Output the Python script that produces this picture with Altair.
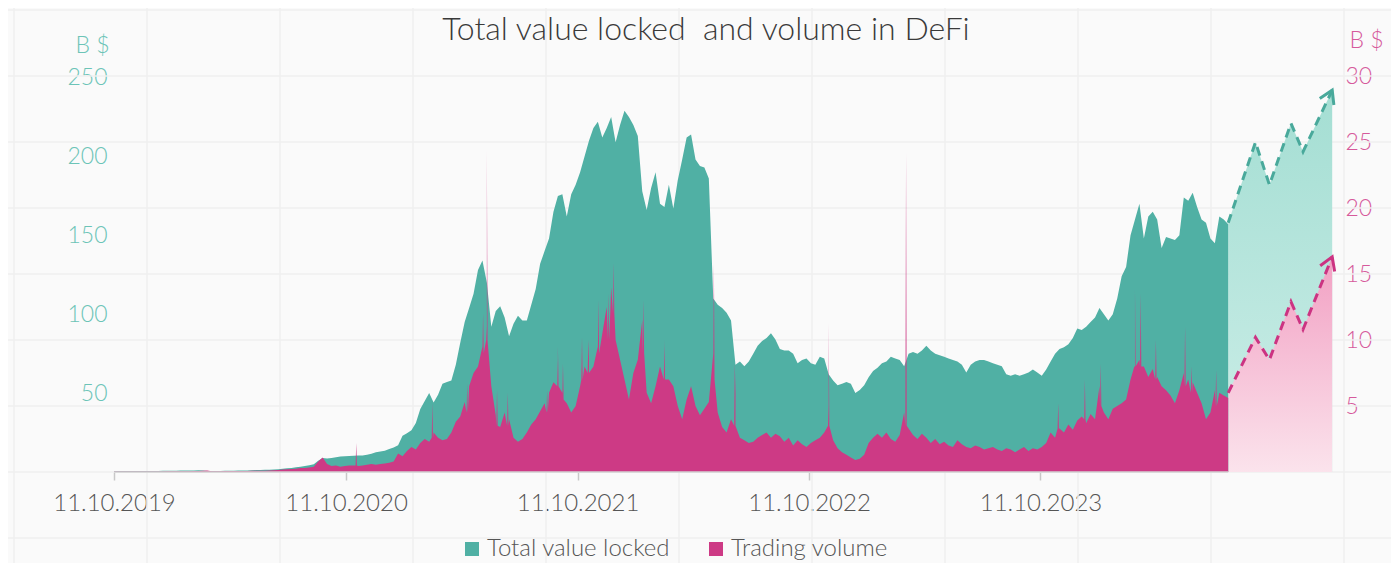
import altair as alt
import pandas as pd

# ---------------- data ----------------
start_date = "2019-10-11"

# weekly Total value locked, B $ (left axis)
tvl = [
    0.55, 0.6, 0.6, 0.6, 0.65, 0.65, 0.65, 0.7, 0.7, 0.7,
    0.7, 0.75, 0.8, 0.8, 0.85, 0.9, 0.95, 1.0, 1.0, 1.05,
    1.0, 0.6, 0.6, 0.65, 0.7, 0.75, 0.8, 0.85, 0.9, 0.95,
    1.0, 1.1, 1.2, 1.3, 1.4, 1.5, 1.6, 1.8, 2.0, 2.3,
    2.6, 3.0, 3.4, 3.8, 4.3, 4.9, 7.2, 8.8, 8.6, 8.9,
    9.4, 9.8, 10.0, 10.2, 10.3, 10.4, 10.5, 11.0, 11.5, 12.5,
    13.0, 13.5, 14.5, 15.5, 17, 23, 24.5, 26.5, 31, 40,
    45, 50, 44, 49, 56, 57, 58, 68, 82, 95,
    104, 113, 128, 134, 120, 92, 102, 105, 98, 86,
    94, 99, 96, 96, 106, 116, 132, 140, 148, 165,
    175, 176, 162, 176, 182, 190, 200, 210, 218, 222,
    212, 218, 225, 209, 220, 229, 225, 220, 213, 178,
    166, 180, 190, 170, 168, 182, 167, 185, 198, 212,
    214, 198, 194, 193, 186, 110, 106, 104, 101, 96,
    68, 70, 67, 70, 75, 80, 83, 85, 88, 84,
    78, 77, 77, 75, 69, 71, 72, 69, 68, 73,
    72, 62, 58, 55, 56, 57, 56, 50, 52, 55,
    60, 64, 66, 69, 70, 73, 72, 71, 67, 75,
    76, 75, 77, 80, 77, 75, 74, 73, 72, 71,
    70, 68, 63, 68, 70, 71, 71, 70, 69, 68,
    67, 62, 61, 62, 61, 62, 63, 65, 63, 61,
    65, 70, 75, 78, 79, 81, 85, 91, 90, 92,
    95, 98, 104, 100, 96, 100, 110, 124, 130, 150,
    160, 170, 148, 162, 165, 160, 142, 149, 148, 147,
    150, 174, 172, 177, 168, 160, 158, 148, 145, 162,
    160, 157,
]

# weekly Trading volume, B $ (right axis)
vol = [
    0.03, 0.03, 0.03, 0.03, 0.03, 0.03, 0.04, 0.04, 0.04, 0.04,
    0.04, 0.04, 0.05, 0.05, 0.05, 0.05, 0.06, 0.06, 0.07, 0.08,
    0.1, 0.12, 0.06, 0.06, 0.06, 0.07, 0.07, 0.08, 0.08, 0.08,
    0.08, 0.09, 0.09, 0.1, 0.1, 0.12, 0.14, 0.16, 0.18, 0.2,
    0.22, 0.25, 0.3, 0.3, 0.35, 0.4, 0.8, 1.1, 0.6, 0.45,
    0.5, 0.4, 0.45, 0.5, 0.5, 0.45, 0.5, 0.55, 0.6, 0.55,
    0.6, 0.65, 0.7, 0.8, 1.4, 1.2, 1.6, 1.9, 1.7, 2.2,
    2.5, 2.3, 3.0, 2.6, 2.4, 2.5, 3.0, 3.8, 4.2, 5.3,
    6.5, 7.5, 8.0, 9.5, 11, 6.5, 4.3, 3.4, 4.5, 4.0,
    2.6, 2.3, 2.5, 3.0, 3.6, 4.0, 4.6, 5.2, 6.0, 6.8,
    8.5, 6.0, 5.2, 4.5, 5.0, 6.5, 8.0, 8.5, 8.0, 9.5,
    10.5, 12.5, 14, 10, 8.5, 7.0, 5.5, 7.5, 8.5, 11.5,
    6.0, 5.2, 6.5, 8.0, 9.5, 7.0, 6.5, 5.0, 4.0, 5.5,
    6.5, 5.0, 4.3, 4.8, 5.3, 9, 4.5, 3.4, 3.0, 4.0,
    6.0, 2.6, 2.4, 2.2, 2.3, 2.6, 2.8, 3.0, 2.6, 2.9,
    2.7, 2.3, 2.6, 2.0, 2.4, 2.1, 1.9, 2.2, 2.4, 2.6,
    3.0, 5, 2.4, 1.8, 1.5, 1.3, 1.1, 0.9, 1.0, 1.3,
    2.2, 2.6, 2.9, 2.6, 3.0, 2.5, 2.3, 2.8, 4.5, 3.3,
    2.8, 2.5, 2.9, 2.6, 2.2, 2.5, 2.1, 2.3, 2.0, 1.9,
    2.4, 2.1, 1.9, 1.8, 2.0, 1.9, 1.7, 1.8, 1.9, 1.7,
    1.6, 1.8, 1.7, 1.5, 1.7, 1.9, 1.6, 1.8, 1.7, 1.9,
    2.2, 3.0, 2.6, 3.3, 3.0, 3.6, 3.2, 3.9, 4.2, 3.7,
    4.4, 4.0, 6.5, 4.5, 4.0, 4.8, 5.0, 5.2, 5.5, 7.0,
    8.0, 8.5, 8.0, 7.2, 7.8, 7.2, 6.5, 6.2, 5.8, 5.2,
    6.2, 7.5, 7.0, 6.8, 6.0, 5.2, 4.0, 4.5, 6.2, 6.0,
    5.8, 5.6,
]

# single-day volume spikes (date, peak, level around it)
spike_dates = ["2020-10-27", "2021-02-24", "2021-04-20", "2021-05-15", "2021-05-21",
               "2021-06-06", "2021-06-23", "2021-08-24", "2021-09-10", "2021-09-18",
               "2021-10-18", "2021-10-28", "2021-11-13", "2021-11-29", "2021-12-07",
               "2022-01-23", "2022-02-25", "2022-05-14", "2022-06-16", "2022-11-11",
               "2023-03-13", "2023-11-08", "2023-12-20", "2024-01-14", "2024-03-08",
               "2024-03-17", "2024-04-10", "2024-05-26", "2024-06-05", "2024-07-14"]
spike_peak = [2.2, 5.2, 6.7, 12, 24.4,
              6.2, 6.0, 6.2, 9.5, 8.2,
              10.2, 10, 13, 13.5, 15.8,
              13, 10, 15.8, 8.2, 11.3,
              24.2, 5.2, 7.0, 8.2, 13.8,
              13.5, 10, 11, 8, 7.7]
spike_base = [0.5, 2.6, 4.5, 9, 10,
              3.5, 3.5, 4.5, 6.5, 5.5,
              7, 7.5, 9, 10, 12,
              9, 7, 7, 3.5, 3.5,
              3.5, 3.3, 4, 5, 8,
              8, 7, 6.5, 6, 5]

# projection (dashed arrows)
proj_dates = ["2024-08-02", "2024-09-14", "2024-10-06", "2024-11-09", "2024-11-28", "2025-01-13"]
proj_tvl = [158, 209, 182, 221, 203, 242]
proj_vol = [6.0, 10.2, 8.5, 12.9, 10.8, 16.3]

tick_dates = ["2019-10-11", "2020-10-11", "2021-10-11", "2022-10-11", "2023-10-11"]
left_ticks = [50, 100, 150, 200, 250]
right_ticks = [5, 10, 15, 20, 25, 30]
series_names = ["Total value locked", "Trading volume"]
grid_cols = list(range(11))
grid_rows = list(range(-5, 40, 5))
title_text = "Total value locked\u00a0 and volume in DeFi"

# ---------------- tables ----------------
dates = pd.date_range(start_date, periods=len(tvl), freq="7D")
df = pd.DataFrame({"date": dates, "tvl": tvl, "series": series_names[0]})

rows = [(d, v) for d, v in zip(dates, vol)]
for d, p, b in zip(spike_dates, spike_peak, spike_base):
    t = pd.Timestamp(d)
    rows += [(t - pd.Timedelta(days=1), b), (t, p), (t + pd.Timedelta(days=1), b)]
vol_df = pd.DataFrame(rows, columns=["date", "vol"]).sort_values("date", kind="stable")
vol_df["series"] = series_names[1]

proj_df = pd.DataFrame({"date": pd.to_datetime(proj_dates), "tvl": proj_tvl, "vol": proj_vol})
base_df = pd.DataFrame({"start": [dates[0]], "end": [dates[-1]]})


def dt(s):
    t = pd.Timestamp(s)
    return alt.DateTime(year=t.year, month=t.month, date=t.day)


# ---------------- style ----------------
FONT = "Lato"
TEAL = "#50b0a4"
PINK = "#cd3a85"
TEAL_LBL = "#6cc4b7"
PINK_LBL = "#d65a9c"
GRID = "#efefef"
W, H = 1222, 396

xscale = alt.Scale(domain=[dt("2019-10-11"), dt("2025-01-19")])
tvl_scale = alt.Scale(domain=[0, 251])
vol_scale = alt.Scale(domain=[0, 30])
x_plain = alt.X("date:T", scale=xscale, axis=None)

x_axis = alt.Axis(values=[dt(s) for s in tick_dates], format="%d.%m.%Y", title=None,
                  domain=False, grid=False, ticks=True, tickSize=8, tickWidth=1.5,
                  tickColor="#c8c8c8", labelFont=FONT, labelFontSize=24, labelFontWeight=300,
                  labelColor="#555555", labelPadding=11, labelFlush=False, labelOverlap=False)
left_axis = alt.Axis(values=left_ticks, orient="left", domain=False, ticks=False, grid=False,
                     labelFont=FONT, labelFontSize=23, labelFontWeight=300, labelColor=TEAL_LBL,
                     labelPadding=7, title="B $", titleFont=FONT, titleFontSize=23,
                     titleFontWeight=300, titleColor=TEAL_LBL, titleAngle=0, titleAlign="right",
                     titleBaseline="alphabetic", titleX=-5, titleY=-24)
right_axis = alt.Axis(values=right_ticks, orient="right", domain=False, ticks=False, grid=False,
                      labelFont=FONT, labelFontSize=23, labelFontWeight=300, labelColor=PINK_LBL,
                      labelPadding=9, title="B $", titleFont=FONT, titleFontSize=23,
                      titleFontWeight=300, titleColor=PINK_LBL, titleAngle=0, titleAlign="left",
                      titleBaseline="alphabetic", titleX=13, titleY=-29)

color_scale = alt.Scale(domain=series_names, range=[TEAL, PINK])
legend = alt.Legend(orient="none", legendX=346, legendY=461, direction="horizontal", title=None,
                    symbolType="square", symbolSize=196, symbolStrokeWidth=0, symbolOpacity=1,
                    labelFont=FONT, labelFontSize=24, labelFontWeight=300, labelColor="#555555",
                    labelOffset=3, columnPadding=33, labelLimit=400)

CHEVRON = "M -0.55 0.9 L 0 0 L 0.55 0.9"

# ---------------- layers ----------------
vgrid = alt.Chart(pd.DataFrame({"gx": grid_cols})).mark_rule(color=GRID, strokeWidth=1.5).encode(
    x=alt.X("gx:Q", scale=alt.Scale(domain=[0, 10], range=[-100, 1230]), axis=None),
    y=alt.value(-80), y2=alt.value(H + 110))
hgrid = alt.Chart(pd.DataFrame({"gy": grid_rows})).mark_rule(color=GRID, strokeWidth=1.5).encode(
    y=alt.Y("gy:Q", scale=vol_scale, axis=None),
    x=alt.value(-110), x2=alt.value(W + 60))

teal_proj = alt.Chart(proj_df).mark_area(
    color=alt.LinearGradient(gradient="linear", x1=0, x2=0, y1=0, y2=1,
                             stops=[alt.GradientStop(color="#a4ded3", offset=0),
                                    alt.GradientStop(color="#cdeee8", offset=1)])
).encode(x=x_plain, y=alt.Y("tvl:Q", scale=tvl_scale, axis=None, stack=None))

pink_proj = alt.Chart(proj_df).mark_area(
    color=alt.LinearGradient(gradient="linear", x1=0, x2=0, y1=0, y2=1,
                             stops=[alt.GradientStop(color="#f2a0c3", offset=0),
                                    alt.GradientStop(color="#fbe3ec", offset=1)])
).encode(x=x_plain, y=alt.Y("vol:Q", scale=vol_scale, axis=None, stack=None))

tvl_area = alt.Chart(df).mark_area(interpolate="linear", opacity=1).encode(
    x=alt.X("date:T", scale=xscale, axis=x_axis),
    y=alt.Y("tvl:Q", scale=tvl_scale, axis=left_axis, stack=None),
    color=alt.Color("series:N", scale=color_scale, legend=legend))

vol_area = alt.Chart(vol_df).mark_area(interpolate="linear", opacity=1).encode(
    x=x_plain,
    y=alt.Y("vol:Q", scale=vol_scale, axis=right_axis, stack=None),
    color=alt.Color("series:N", scale=color_scale, legend=legend))

baseline = alt.Chart(base_df).mark_rule(color="#d2d2d2", strokeWidth=1.5).encode(
    x=alt.X("start:T", scale=xscale, axis=None), x2="end:T",
    y=alt.YDatum(0, scale=tvl_scale, axis=None))

teal_line = alt.Chart(proj_df).mark_line(color="#49a99b", strokeWidth=3, strokeDash=[9, 6]).encode(
    x=x_plain, y=alt.Y("tvl:Q", scale=tvl_scale, axis=None))
pink_line = alt.Chart(proj_df).mark_line(color="#cc3382", strokeWidth=3, strokeDash=[9, 6]).encode(
    x=x_plain, y=alt.Y("vol:Q", scale=vol_scale, axis=None))

last = proj_df.tail(1)
teal_arrow = alt.Chart(last).mark_point(shape=CHEVRON, filled=False, size=800, strokeWidth=3,
                                        angle=25, color="#49a99b", opacity=1).encode(
    x=x_plain, y=alt.Y("tvl:Q", scale=tvl_scale, axis=None))
pink_arrow = alt.Chart(last).mark_point(shape=CHEVRON, filled=False, size=800, strokeWidth=3,
                                        angle=22, color="#cc3382", opacity=1).encode(
    x=x_plain, y=alt.Y("vol:Q", scale=vol_scale, axis=None))

title = alt.Chart(pd.DataFrame({"t": [title_text]})).mark_text(
    font=FONT, fontSize=32, fontWeight=300, color="#3a3a3a", align="center",
    baseline="alphabetic"
).encode(text="t:N", x=alt.value(W / 2 - 19), y=alt.value(-36))

chart = alt.layer(
    vgrid, hgrid, teal_proj, pink_proj, tvl_area, vol_area, baseline,
    teal_line, pink_line, teal_arrow, pink_arrow, title
).resolve_scale(
    x="independent", y="independent"
).properties(
    width=W, height=H,
    padding={"left": 106, "top": 68, "right": 55, "bottom": 91},
    autosize=alt.AutoSizeParams(type="none"),
    background="#fafafa",
).configure_view(stroke=None)

chart.save("out.html", embed_options={"renderer": "svg", "actions": False})
